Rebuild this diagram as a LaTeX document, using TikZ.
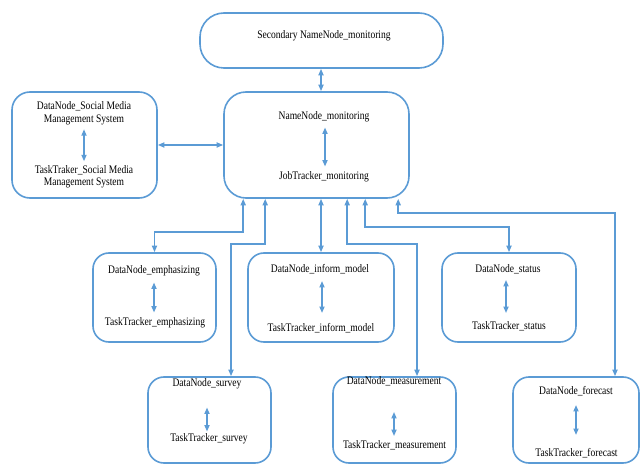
\documentclass[tikz,border=0pt]{standalone}
\usepackage{fontspec}
\setmainfont{Liberation Serif}[FakeStretch=0.83]
\usetikzlibrary{arrows.meta,calc}
\definecolor{lb}{HTML}{5B9BD5}
\begin{document}
\begin{tikzpicture}[x=1pt,y=-1pt,
  box/.style={draw=lb,line width=1.6pt,inner sep=0pt},
  lbl/.style={font=\fontsize{11.5}{12.5}\selectfont,inner sep=3pt,align=center},
  conn/.style={draw=lb,line width=1.6pt,{Triangle[length=6.5pt,width=5pt]}-{Triangle[length=6.5pt,width=5pt]}}
]
\useasboundingbox (0,0) rectangle (640,465);
% boxes
\node[box,rounded corners=24pt,minimum width=243pt,minimum height=55pt] (top) at (321.5,40.5) {};
\node[box,rounded corners=22pt,minimum width=185pt,minimum height=106pt] (main) at (316.5,145) {};
\node[box,rounded corners=18pt,minimum width=145pt,minimum height=106pt] (left) at (84.5,145) {};
\node[box,rounded corners=16pt,minimum width=123pt,minimum height=89pt] (emph) at (154.5,297.5) {};
\node[box,rounded corners=16pt,minimum width=146pt,minimum height=89pt] (inform) at (321,297.5) {};
\node[box,rounded corners=16pt,minimum width=134pt,minimum height=89pt] (status) at (509,297.5) {};
\node[box,rounded corners=16pt,minimum width=123pt,minimum height=86pt] (survey) at (209.5,420) {};
\node[box,rounded corners=16pt,minimum width=123pt,minimum height=86pt] (meas) at (394.5,420) {};
\node[box,rounded corners=16pt,minimum width=126pt,minimum height=86pt] (fore) at (576,420) {};
% texts
\node[lbl] (ttop) at (324,36) {Secondary NameNode\_monitoring};
\node[lbl] (nn) at (324,117) {NameNode\_monitoring};
\node[lbl] (jt) at (324,177) {JobTracker\_monitoring};
\node[lbl] (ldn) at (84,113.5) {DataNode\_Social Media\\Management System};
\node[lbl] (ltt) at (84,177) {TaskTraker\_Social Media\\Management System};
\node[lbl] (edn) at (154,271) {DataNode\_emphasizing};
\node[lbl] (ett) at (155,323) {TaskTracker\_emphasizing};
\node[lbl] (idn) at (320,269) {DataNode\_inform\_model};
\node[lbl] (itt) at (321,328) {TaskTracker\_inform\_model};
\node[lbl] (sdn) at (508,269) {DataNode\_status};
\node[lbl] (stt) at (509,326) {TaskTracker\_status};
\node[lbl] (vdn) at (207,384) {DataNode\_survey};
\node[lbl] (vtt) at (209,439) {TaskTracker\_survey};
\node[lbl] (mdn) at (394,381) {DataNode\_measurement};
\node[lbl] (mtt) at (394.5,445) {TaskTracker\_measurement};
\node[lbl] (fdn) at (576,391) {DataNode\_forecast};
\node[lbl] (ftt) at (576.5,453) {TaskTracker\_forecast};
% inner arrows
\draw[conn,shorten <=2pt,shorten >=2pt] (nn.south -| 325,0) -- (jt.north -| 325,0);
\draw[conn,shorten <=1pt,shorten >=1pt] (ldn) -- (ltt);
\draw[conn,shorten <=3pt,shorten >=2pt] (edn) -- (edn |- ett.north);
\draw[conn,shorten <=4pt,shorten >=7pt] (idn.south -| 322,0) -- (itt.north -| 322,0);
\draw[conn,shorten <=3pt,shorten >=5pt] (sdn.south -| 506,0) -- (stt.north -| 506,0);
\draw[conn,shorten <=15pt,shorten >=-1pt] (vdn) -- (vdn |- vtt.north);
\draw[conn,shorten <=23pt,shorten >=1pt] (mdn) -- (mdn |- mtt.north);
\draw[conn,shorten <=6pt,shorten >=10pt] (fdn) -- (fdn |- ftt.north);
% connectors
\draw[conn] (top.south -| 321,0) -- (main.north -| 321,0);
\draw[conn] (left.east) -- (main.west);
\draw[conn] ([xshift=20pt]main.south west) -- ++(0,33) -| (emph.north);
\draw[conn] ([xshift=42pt]main.south west) -- ++(0,45) -| ([xshift=21.5pt]survey.north);
\draw[conn] (main.south -| inform.north) -- (inform.north);
\draw[conn] ([xshift=124pt]main.south west) -- ++(0,45) -| ([xshift=22.5pt]meas.north);
\draw[conn] ([xshift=142pt]main.south west) -- ++(0,28) -| (status.north);
\draw[conn] ([xshift=175pt]main.south west) -- ++(0,14) -| ([xshift=39pt]fore.north);
\end{tikzpicture}
\end{document}
